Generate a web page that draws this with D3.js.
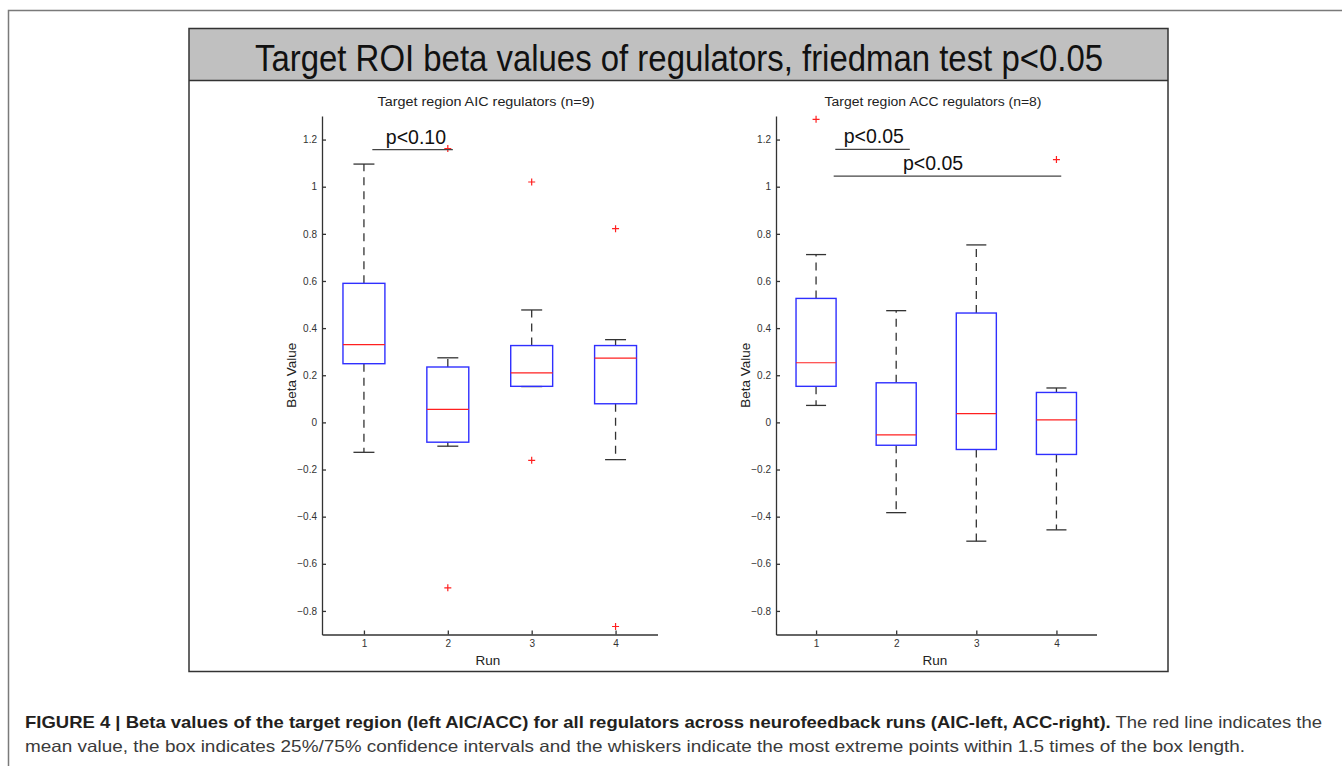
<!DOCTYPE html>
<html>
<head>
<meta charset="utf-8">
<script src="https://cdn.jsdelivr.net/npm/d3@7"></script>
<style>
  html, body { margin: 0; padding: 0; background: #fff; }
  svg { display: block; font-family: "Liberation Sans", Arial, sans-serif; }
</style>
</head>
<body>
<svg id="chart" width="1342" height="766"></svg>
<script>
// run numbers (x categories)
const runs = [1, 2, 3, 4];
const yTicks = [-0.8, -0.6, -0.4, -0.2, 0, 0.2, 0.4, 0.6, 0.8, 1, 1.2];

// AIC regulators (left panel)
const aicQ1 = [0.249, -0.084, 0.153, 0.079];
const aicMedian = [0.330, 0.055, 0.210, 0.273];
const aicQ3 = [0.590, 0.235, 0.326, 0.326];
const aicLow = [-0.127, -0.101, 0.152, -0.158];
const aicHigh = [1.096, 0.274, 0.477, 0.351];
const aicOutliers = [[2, 1.162], [2, -0.702], [3, 1.020], [3, -0.161], [4, 0.822], [4, -0.866]];
const aicSig = [{ from: 1.1, to: 2.06, y: 1.157, at: 1.62, label: "p<0.10" }];

// ACC regulators (right panel)
const accQ1 = [0.153, -0.097, -0.115, -0.136];
const accMedian = [0.253, -0.053, 0.037, 0.011];
const accQ3 = [0.526, 0.168, 0.464, 0.127];
const accLow = [0.072, -0.383, -0.504, -0.456];
const accHigh = [0.712, 0.474, 0.753, 0.146];
const accOutliers = [[1, 1.286], [4, 1.115]];
const accSig = [
  { from: 1.24, to: 2.17, y: 1.158, at: 1.72, label: "p<0.05" },
  { from: 1.22, to: 4.06, y: 1.045, at: 2.46, label: "p<0.05" }
];

const svg = d3.select("#chart");

// outer frame (top + left edges only)
svg.append("path").attr("d", "M8.5,766V10.5H1342")
  .attr("fill", "none").attr("stroke", "#7a7a7a").attr("stroke-width", 1.5);

// figure image box + gray title band
svg.append("rect").attr("x", 189).attr("y", 28.5).attr("width", 979).attr("height", 52)
  .attr("fill", "#c0c0c0");
svg.append("line").attr("x1", 189).attr("x2", 1168).attr("y1", 80.5).attr("y2", 80.5)
  .attr("stroke", "#333").attr("stroke-width", 1.5);
svg.append("rect").attr("x", 189).attr("y", 28.5).attr("width", 979).attr("height", 643)
  .attr("fill", "none").attr("stroke", "#333").attr("stroke-width", 1.5);

svg.append("text").attr("x", 679).attr("y", 71).attr("text-anchor", "middle")
  .attr("font-size", 37).attr("fill", "#111")
  .attr("textLength", 848).attr("lengthAdjust", "spacingAndGlyphs")
  .text("Target ROI beta values of regulators, friedman test p<0.05");

function drawPanel(p) {
  const x = d3.scaleLinear().domain([0.5, 4.5]).range([p.left, p.right]);
  const y = d3.scaleLinear().domain([-0.9, 1.3]).range([634.5, 116]);
  const g = svg.append("g");
  const unit = x(2) - x(1);
  const boxW = unit * 0.5, capW = unit * 0.25;

  const yAxis = g.append("g").attr("transform", `translate(${p.left},0)`)
    .call(d3.axisLeft(y).tickValues(yTicks).tickSizeInner(-4).tickSizeOuter(0).tickPadding(5)
      .tickFormat(d => d3.format("~g")(d)));
  const xAxis = g.append("g").attr("transform", "translate(0,634.5)")
    .call(d3.axisBottom(x).tickValues(runs).tickSizeInner(-4).tickSizeOuter(0).tickPadding(5)
      .tickFormat(d3.format("d")));
  [yAxis, xAxis].forEach(a => {
    a.selectAll("path, line").attr("stroke", "#333").attr("stroke-width", 1.3);
    a.selectAll("text").attr("font-size", 10).attr("fill", "#333")
      .attr("font-family", "'Liberation Sans', Arial, sans-serif");
  });

  g.append("text").attr("x", p.titleX).attr("y", 106).attr("text-anchor", "middle")
    .attr("font-size", 12.5).attr("fill", "#222")
    .attr("textLength", 217).attr("lengthAdjust", "spacingAndGlyphs")
    .text(p.title);
  g.append("text").attr("transform", `translate(${p.left - 31},${y(0.2)}) rotate(-90)`)
    .attr("text-anchor", "middle").attr("dy", "0.35em")
    .attr("font-size", 13.5).attr("fill", "#222").text("Beta Value");
  g.append("text").attr("x", p.titleX + 2).attr("y", 665).attr("text-anchor", "middle")
    .attr("font-size", 13.5).attr("fill", "#222").text("Run");

  runs.forEach((r, i) => {
    const cx = x(r);
    const dash = "8,6";
    // whiskers
    g.append("line").attr("x1", cx).attr("x2", cx).attr("y1", y(p.q3[i])).attr("y2", y(p.high[i]))
      .attr("stroke", "#333").attr("stroke-width", 1.3).attr("stroke-dasharray", dash);
    g.append("line").attr("x1", cx).attr("x2", cx).attr("y1", y(p.q1[i])).attr("y2", y(p.low[i]))
      .attr("stroke", "#333").attr("stroke-width", 1.3).attr("stroke-dasharray", dash);
    [p.high[i], p.low[i]].forEach(v => {
      g.append("line").attr("x1", cx - capW / 2).attr("x2", cx + capW / 2)
        .attr("y1", y(v)).attr("y2", y(v)).attr("stroke", "#333").attr("stroke-width", 1.3);
    });
    // box
    g.append("rect").attr("x", cx - boxW / 2).attr("width", boxW)
      .attr("y", y(p.q3[i])).attr("height", y(p.q1[i]) - y(p.q3[i]))
      .attr("fill", "none").attr("stroke", "#2f2fff").attr("stroke-width", 1.4);
    // median
    g.append("line").attr("x1", cx - boxW / 2).attr("x2", cx + boxW / 2)
      .attr("y1", y(p.median[i])).attr("y2", y(p.median[i]))
      .attr("stroke", "#ff2020").attr("stroke-width", 1.2);
  });

  g.selectAll(".outlier").data(p.outliers).enter().append("path")
    .attr("transform", d => `translate(${x(d[0])},${y(d[1])})`)
    .attr("d", "M-3.5,0H3.5M0,-3.5V3.5")
    .attr("stroke", "#ff2020").attr("stroke-width", 1.2).attr("fill", "none");

  p.sig.forEach(s => {
    g.append("line").attr("x1", x(s.from)).attr("x2", x(s.to)).attr("y1", y(s.y)).attr("y2", y(s.y))
      .attr("stroke", "#444").attr("stroke-width", 1.3);
    g.append("text").attr("x", x(s.at)).attr("y", y(s.y) - 6).attr("text-anchor", "middle")
      .attr("font-size", 19.5).attr("fill", "#111").text(s.label);
  });
}

drawPanel({
  left: 322, right: 657.5, titleX: 486, title: "Target region AIC regulators (n=9)",
  q1: aicQ1, median: aicMedian, q3: aicQ3, low: aicLow, high: aicHigh,
  outliers: aicOutliers, sig: aicSig
});
drawPanel({
  left: 776, right: 1096.5, titleX: 933, title: "Target region ACC regulators (n=8)",
  q1: accQ1, median: accMedian, q3: accQ3, low: accLow, high: accHigh,
  outliers: accOutliers, sig: accSig
});

// caption
const cap1 = svg.append("text").attr("x", 25).attr("y", 728).attr("font-size", 16.5)
  .attr("textLength", 1297).attr("lengthAdjust", "spacingAndGlyphs");
cap1.append("tspan").attr("font-weight", "bold").attr("fill", "#231f20")
  .text("FIGURE 4 | Beta values of the target region (left AIC/ACC) for all regulators across neurofeedback runs (AIC-left, ACC-right).");
cap1.append("tspan").attr("fill", "#3a3a3a").text(" The red line indicates the");
svg.append("text").attr("x", 25).attr("y", 752).attr("font-size", 16.5).attr("fill", "#3a3a3a")
  .attr("textLength", 1220).attr("lengthAdjust", "spacingAndGlyphs")
  .text("mean value, the box indicates 25%/75% confidence intervals and the whiskers indicate the most extreme points within 1.5 times of the box length.");
</script>
</body>
</html>
